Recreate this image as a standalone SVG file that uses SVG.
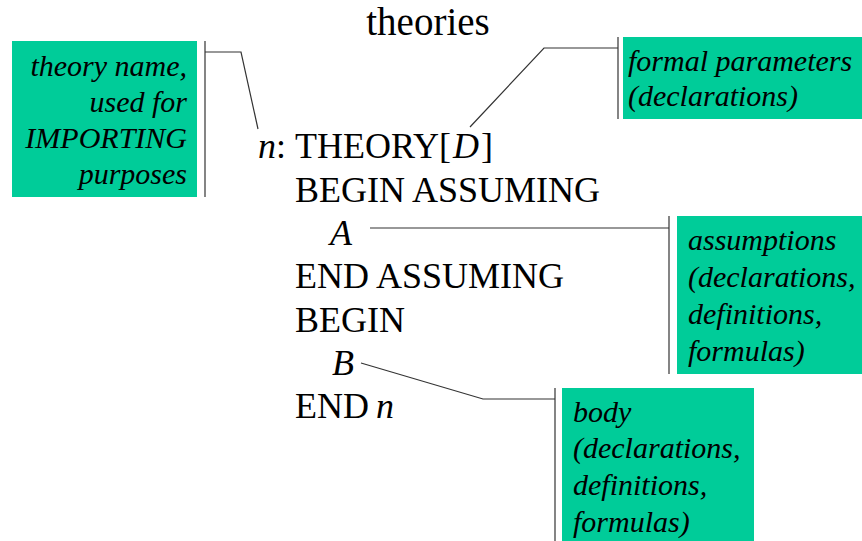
<svg xmlns="http://www.w3.org/2000/svg" width="862" height="541" viewBox="0 0 862 541">
<rect width="862" height="541" fill="#fff"/>
<text x="428" y="35" font-family="Liberation Serif" font-size="39" text-anchor="middle">theories</text>
<g id="code">
<text x="258" y="158" font-family="Liberation Serif" font-size="36" font-style="italic">n</text>
<text x="276" y="158" font-family="Liberation Serif" font-size="36">:</text>
<text x="295" y="158" font-family="Liberation Serif" font-size="36">THEORY[</text>
<text x="453" y="158" font-family="Liberation Serif" font-size="36" font-style="italic">D</text>
<text x="481" y="158" font-family="Liberation Serif" font-size="36">]</text>
<text x="295" y="202" font-family="Liberation Serif" font-size="36">BEGIN ASSUMING</text>
<text x="330" y="245" font-family="Liberation Serif" font-size="36" font-style="italic">A</text>
<text x="295" y="288" font-family="Liberation Serif" font-size="36">END ASSUMING</text>
<text x="295" y="332" font-family="Liberation Serif" font-size="36">BEGIN</text>
<text x="332" y="375" font-family="Liberation Serif" font-size="36" font-style="italic">B</text>
<text x="295" y="418" font-family="Liberation Serif" font-size="36">END</text>
<text x="376" y="418" font-family="Liberation Serif" font-size="36" font-style="italic">n</text>
</g>
<g id="connectors" stroke="#333" stroke-width="1.2" fill="none">
<polyline points="205,52 241,52 258,129"/>
<line x1="205" y1="41" x2="205" y2="197"/>
<polyline points="618,48 544,48 470,127"/>
<line x1="618" y1="37" x2="618" y2="119"/>
<line x1="370" y1="228" x2="669" y2="228"/>
<line x1="669" y1="216" x2="669" y2="374"/>
<polyline points="555,399 483,399 361,363"/>
<line x1="555" y1="388" x2="555" y2="541"/>
</g>
<g id="theory-name">
<rect fill="#00CC99" x="12" y="41" width="185" height="156"/>
<text x="187" y="76" font-family="Liberation Serif" font-size="30" font-style="italic" text-anchor="end">theory name,</text>
<text x="187" y="112" font-family="Liberation Serif" font-size="30" font-style="italic" text-anchor="end">used for</text>
<text x="187" y="148" font-family="Liberation Serif" font-size="30" font-style="italic" text-anchor="end">IMPORTING</text>
<text x="187" y="184" font-family="Liberation Serif" font-size="30" font-style="italic" text-anchor="end">purposes</text>
</g>
<g id="formal-parameters">
<rect fill="#00CC99" x="623" y="37" width="239" height="82"/>
<text x="628" y="71" font-family="Liberation Serif" font-size="30" font-style="italic">formal parameters</text>
<text x="628" y="106" font-family="Liberation Serif" font-size="30" font-style="italic">(declarations)</text>
</g>
<g id="assumptions">
<rect fill="#00CC99" x="677" y="216" width="185" height="158"/>
<text x="688" y="250" font-family="Liberation Serif" font-size="30" font-style="italic">assumptions</text>
<text x="688" y="287" font-family="Liberation Serif" font-size="30" font-style="italic">(declarations,</text>
<text x="688" y="324" font-family="Liberation Serif" font-size="30" font-style="italic">definitions,</text>
<text x="688" y="361" font-family="Liberation Serif" font-size="30" font-style="italic">formulas)</text>
</g>
<g id="body">
<rect fill="#00CC99" x="562" y="388" width="192" height="153"/>
<text x="573" y="422" font-family="Liberation Serif" font-size="30" font-style="italic">body</text>
<text x="573" y="458" font-family="Liberation Serif" font-size="30" font-style="italic">(declarations,</text>
<text x="573" y="495" font-family="Liberation Serif" font-size="30" font-style="italic">definitions,</text>
<text x="573" y="532" font-family="Liberation Serif" font-size="30" font-style="italic">formulas)</text>
</g>
</svg>
